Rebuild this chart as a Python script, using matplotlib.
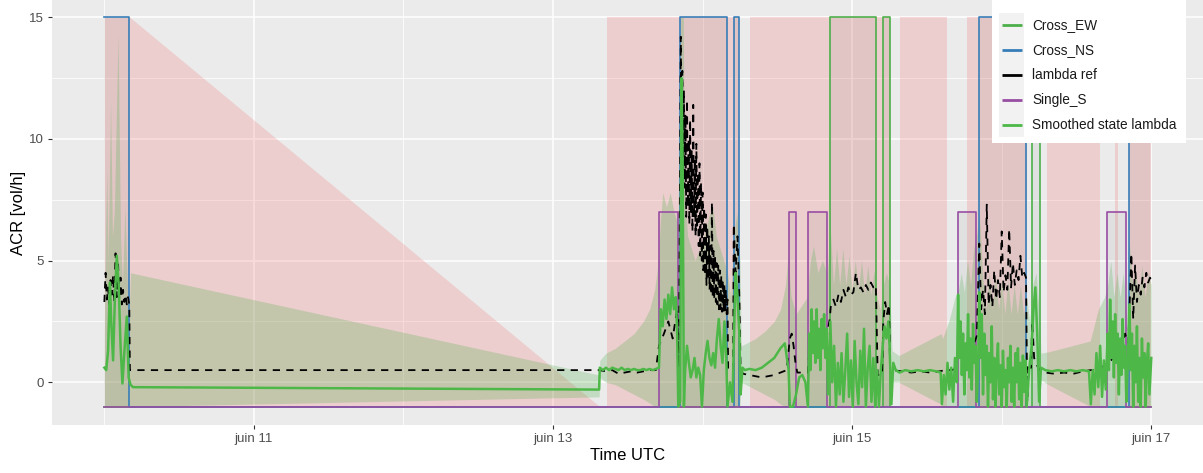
import numpy as np
import matplotlib
matplotlib.use("Agg")
import matplotlib.pyplot as plt
import matplotlib.dates as mdates
from matplotlib.patches import Rectangle
from datetime import datetime

plt.rcParams["font.family"] = ["Liberation Sans", "DejaVu Sans"]

# all times are hours since juin 10 00:00 UTC
t_ref = [0, 0.2, 0.4, 0.6, 0.8, 1.0, 1.2, 1.4, 1.6, 1.8, 2.0, 2.2, 2.4, 2.6, 2.8, 3.0, 3.2, 3.4, 3.6, 3.8, 4.0, 4.1,
         79.4, 80.5, 81.5, 82.5, 83.5, 84.5, 85.5, 86.5, 87.5, 88.5,
         89.0, 89.8, 90.5, 91.2, 91.9, 92.2,
         92.5, 92.625, 92.75, 92.875, 93.0, 93.125, 93.25, 93.375, 93.5, 93.625, 93.75, 93.875,
         94.0, 94.125, 94.25, 94.375, 94.5, 94.625, 94.75, 94.875, 95.0, 95.125, 95.25, 95.375,
         95.5, 95.625, 95.75, 95.875, 96.0, 96.125, 96.25, 96.375, 96.5, 96.625, 96.75, 96.875,
         97.0, 97.125, 97.25, 97.375, 97.5, 97.625, 97.75, 97.875, 98.0, 98.125, 98.25, 98.375,
         98.5, 98.625, 98.75, 98.875, 99.0, 99.125, 99.25, 99.375, 99.5, 99.625, 99.75, 99.875, 100.0,
         100.1, 100.9, 101.0, 101.3, 101.6, 101.9, 102.1,
         102.5, 103.5, 104.5, 105.5, 106.5, 107.5, 108.5, 109.5,
         110.0, 110.3, 110.6, 110.9, 111.2, 112.9,
         113.1, 114.0, 115.0, 116.0,
         116.4, 116.6, 117.0, 117.4, 117.8, 118.2, 118.6, 119.0, 119.4, 119.8,
         120.2, 120.6, 121.0, 121.4, 121.8, 122.2, 122.6, 123.0, 123.4, 123.8,
         124.1, 124.8, 125.0, 125.3, 125.6, 125.9, 126.1,
         126.5, 128.0, 129.5, 131.0, 132.5, 134.0,
         135.0, 136.0, 137.0, 138.0, 139.0, 140.0,
         140.4, 140.7, 141.0, 141.3, 141.6, 141.9, 142.2, 142.5, 142.8, 143.1, 143.4, 143.7, 144.0,
         144.3, 144.6, 144.9, 145.2, 145.5, 145.8, 146.1, 146.4, 146.7, 147.0, 147.3, 147.6, 147.9,
         148.1, 148.3, 148.7, 148.9, 149.2, 150.0,
         151.0, 152.5, 154.0, 155.5, 157.0, 158.3,
         159.0, 160.0, 161.0, 162.0, 163.0, 163.8, 164.3,
         164.5, 164.8, 165.1, 165.4, 165.7, 166.0, 166.3, 166.6, 166.9, 167.2, 167.5, 167.8, 168.0]
v_ref = [3.3, 4.5, 3.4, 3.9, 3.2, 4.2, 3.6, 4.4, 3.3, 5.3, 3.5, 4.9, 3.4, 4.3, 3.2, 3.8, 3.3, 3.6, 3.2, 3.5, 3.2, 0.5,
         0.5, 0.45, 0.5, 0.35, 0.4, 0.45, 0.4, 0.45, 0.5, 0.5,
         1.5, 2.0, 2.5, 1.8, 3.0, 0.6,
         14.2, 8.5, 12.8, 7.5, 12.0, 8.0, 11.0, 6.8, 11.6, 7.2, 10.0, 6.5,
         10.8, 7.0, 9.5, 6.2, 11.4, 6.8, 9.2, 6.0, 9.8, 6.3, 8.6, 5.6,
         9.0, 5.2, 8.2, 5.0, 7.8, 4.6, 7.2, 4.4, 6.9, 4.0, 6.4, 4.2,
         6.0, 3.8, 5.6, 3.6, 7.4, 3.5, 5.4, 3.4, 5.2, 3.3, 4.9, 3.2,
         4.8, 3.0, 4.6, 3.0, 4.4, 2.9, 4.2, 2.9, 4.0, 2.9, 3.8, 2.8, 3.4,
         0.5, 0.5, 6.5, 4.5, 6.0, 3.5, 0.5,
         0.35, 0.3, 0.25, 0.2, 0.25, 0.3, 0.4, 0.5,
         1.8, 2.0, 1.5, 0.8, 0.4, 0.4,
         1.2, 1.5, 1.8, 2.0,
         2.6, 3.2, 3.4, 3.1, 3.6, 3.3, 3.8, 3.5, 3.9, 3.6,
         3.7, 4.5, 3.8, 3.9, 3.7, 4.0, 3.8, 4.1, 3.9, 4.0,
         0.3, 0.3, 2.5, 3.3, 2.8, 3.2, 0.5,
         0.5, 0.45, 0.4, 0.45, 0.4, 0.45,
         0.5, 0.5, 0.6, 0.8, 1.2, 1.9,
         5.7, 3.0, 3.8, 2.8, 7.3, 3.2, 4.0, 3.1, 4.6, 3.4, 4.2, 3.5, 6.2,
         3.7, 4.4, 3.8, 6.3, 3.9, 4.9, 4.0, 4.6, 4.2, 5.2, 4.3, 4.5, 4.3,
         -0.8, 0.6, 0.6, 2.5, 1.0, 0.5,
         0.4, 0.35, 0.4, 0.35, 0.45, 0.5,
         0.5, 0.6, 0.8, 1.0, 1.3, 2.0, 1.6,
         3.0, 5.3, 2.6, 4.8, 3.3, 4.0, 3.6, 4.3, 3.9, 4.5, 4.1, 4.3, 4.2]

t_smooth = [0, 0.3, 0.6, 0.9, 1.1, 1.4, 1.7, 2.0, 2.3, 2.6, 2.9, 3.2, 3.6, 3.9, 4.2, 4.6,
            79.4, 79.5, 80.0, 80.5, 81.0, 81.5, 82.0, 82.5, 83.0, 83.5, 84.0, 84.5, 85.0, 85.5,
            86.0, 86.5, 87.0, 87.5, 88.0, 88.5, 89.0,
            89.1, 89.3, 89.6, 89.9, 90.2, 90.5, 90.8, 91.1, 91.4, 91.7, 91.9, 92.1, 92.4, 92.6, 92.8,
            93.0, 93.2, 93.5, 93.8, 94.1, 94.4, 94.7, 95.0, 95.3, 95.6, 95.9, 96.2, 96.5, 96.8,
            97.1, 97.4, 97.7, 98.0, 98.3, 98.6, 98.9, 99.2, 99.5, 99.8, 100.0, 100.4, 100.8,
            101.0, 101.3, 101.6, 101.9, 102.1, 102.4, 102.8, 103.5, 104.5, 105.5, 106.5, 107.5,
            108.5, 109.2, 109.8, 110.0, 110.5, 111.0, 111.5, 112.0, 112.5, 112.9,
            113.1, 113.3, 113.5, 113.7, 113.9, 114.1, 114.3, 114.5, 114.7, 114.9, 115.1, 115.3,
            115.5, 115.7, 115.9, 116.1, 116.3,
            116.5, 116.8, 117.1, 117.4, 117.7, 118.0, 118.3, 118.6, 118.9, 119.2, 119.5, 119.8,
            120.1, 120.4, 120.7, 121.0, 121.3, 121.6, 121.9, 122.2, 122.5, 122.8, 123.1, 123.4,
            123.7, 124.0, 124.3, 124.6, 124.9, 125.2, 125.5, 125.8, 126.0, 126.3, 126.6,
            127.0, 127.6, 128.5, 129.5, 130.5, 131.5, 132.5, 133.5, 134.2, 134.4,
            134.7, 135.0, 135.3, 135.6, 135.9, 136.2, 136.5, 136.8,
            137.0, 137.2, 137.4, 137.6, 137.8, 138.0, 138.2, 138.4, 138.6, 138.8, 139.0, 139.2,
            139.4, 139.6, 139.8, 140.0, 140.2,
            140.4, 140.6, 140.8, 141.0, 141.2, 141.4, 141.6, 141.8, 142.0, 142.2, 142.4, 142.6,
            142.8, 143.0, 143.2, 143.4, 143.6, 143.8, 144.0, 144.2, 144.4, 144.6, 144.8, 145.0,
            145.2, 145.4, 145.6, 145.8, 146.0, 146.2, 146.4, 146.6, 146.8, 147.0, 147.2, 147.4,
            147.6, 147.8, 148.0, 148.4, 148.8, 149.1, 149.4, 149.7, 150.0, 150.3,
            151.0, 152.0, 153.0, 154.0, 155.0, 156.0, 157.0, 158.0, 158.3, 158.6, 158.9,
            159.2, 159.5, 159.8, 160.1, 160.4, 160.7,
            161.0, 161.2, 161.4, 161.6, 161.8, 162.0, 162.2, 162.4, 162.6, 162.8, 163.0, 163.2,
            163.4, 163.6, 163.8, 164.0, 164.2,
            164.5, 164.7, 164.9, 165.1, 165.3, 165.5, 165.7, 165.9, 166.1, 166.3, 166.5, 166.7,
            166.9, 167.1, 167.3, 167.5, 167.7, 168.0]
v_smooth = [0.6, 0.5, 1.3, 4.1, 2.5, 0.9, 3.5, 5.2, 4.0, 1.5, -0.05, 1.2, 2.7, 0.2, -0.1, -0.2,
            -0.3, 0.6, 0.5, 0.6, 0.5, 0.6, 0.55, 0.5, 0.6, 0.5, 0.55, 0.5, 0.55, 0.5,
            0.5, 0.55, 0.5, 0.55, 0.5, 0.55, 0.6,
            1.5, 3.0, 2.3, 3.4, 2.6, 3.6, 2.8, 3.9, 3.0, 3.5, 2.2, -1.0, -0.8, 12.5, 9.0,
            -1.0, 0.5, 1.5, 0.8, 0.2, 0.5, 1.0, 0.2, 0.6, 0.3, -1.0, 0.5, 1.2, 1.7,
            1.0, 0.7, 1.2, 0.6, 1.8, 2.6, 1.5, 0.8, 2.5, 1.0, -1.0, 0.0, -0.8,
            1.5, 4.5, 3.5, 2.0, -0.5, 0.6, 0.5, 0.55, 0.5, 0.6, 0.8, 1.0,
            1.4, 1.6, 0.5, -1.0, -1.0, -0.5, 0.2, 0.3, 0.0, -1.0,
            2.0, 0.5, 3.0, 1.2, 2.5, 0.8, 3.0, 1.0, 2.2, 0.5, 2.6, 1.4,
            2.8, 1.0, 2.2, -0.5, 1.0,
            2.5, 0.0, 1.5, -1.0, 0.8, -0.5, 1.2, -0.8, 0.5, 2.0, -0.6, 0.9,
            -1.0, 1.7, 0.0, -0.9, 1.3, -0.2, 2.2, -1.0, 0.6, 1.5, -0.8, 1.0,
            -1.0, 0.5, -1.0, 0.5, 1.5, 2.3, 1.8, 2.5, 1.5, -0.9, 0.8,
            0.5, 0.4, 0.5, 0.45, 0.5, 0.45, 0.5, 0.45, 0.4, -0.9,
            0.3, -0.5, 0.8, -0.3, 0.6, -0.8, 1.0, 0.0,
            3.6, 1.0, 2.5, 0.3, 2.0, -0.5, 1.6, 0.5, 2.8, 0.2, 1.8, -0.3,
            2.4, 0.8, 1.5, -0.8, 0.5,
            3.7, 1.0, 2.8, -0.5, 2.0, 0.3, 1.5, -1.0, 1.2, 0.0, 2.3, -0.7,
            1.0, -1.0, 0.8, 1.6, -0.5, 0.7, -1.0, 1.3, -0.2, 0.5, -1.0, 1.0,
            0.0, 1.5, -0.8, 0.6, -1.0, 1.2, 0.0, 1.4, -0.7, 0.8, -1.0, 1.1,
            -0.4, 0.9, -1.0, 0.5, 1.5, 3.0, 3.9, 2.0, -0.8, 0.6,
            0.5, 0.45, 0.5, 0.45, 0.5, 0.45, 0.5, 0.45, -0.9, 0.5, -0.5,
            1.2, -0.2, 1.5, -0.6, 0.9, -0.3,
            2.0, 0.5, 3.4, 1.0, 2.5, 0.2, 2.8, 0.8, 2.0, -0.5, 1.8, 0.3,
            2.6, 0.6, 1.5, -0.8, 0.6,
            3.2, 0.5, 2.0, -1.0, 1.5, 0.0, 2.3, -0.8, 1.0, -1.0, 1.8, 0.2,
            1.2, -1.0, 0.8, 1.6, -0.5, 1.0]

t_ci = [0, 0.2, 0.4, 0.6, 1.0, 1.3, 1.6, 2.2, 2.6, 2.9, 3.3, 3.7, 4.0, 4.2,
        79.4, 79.5, 80.5, 82.0, 83.5, 85.0, 86.5, 87.5, 88.3, 88.9,
        89.2, 89.6, 90.2, 90.8, 91.4, 92.0, 92.3, 92.5, 92.9, 93.1,
        93.6, 94.2, 94.8, 95.5, 96.2, 97.0, 97.6, 98.2, 98.8, 99.4,
        100.0, 100.5, 101.0, 101.5, 102.0,
        102.2, 103.0, 104.5, 106.0, 107.5, 108.5, 109.3, 109.7,
        110.2, 111.0, 112.0, 112.8, 113.3, 113.8, 114.5, 115.2, 116.0,
        116.5, 117.0, 117.5, 118.0, 118.5, 119.0, 119.5, 120.0, 120.5,
        121.0, 121.5, 122.0, 122.5, 123.0, 123.5, 124.0, 124.5, 125.0, 125.5, 126.0,
        126.4, 127.5, 129.0, 130.5, 132.0, 133.5, 134.3,
        134.5, 135.5, 136.5, 137.0, 137.5, 138.0, 138.5, 139.0, 139.5, 140.0,
        140.4, 141.0, 141.5, 142.0, 142.5, 143.0, 143.5, 144.0, 144.5, 145.0,
        145.5, 146.0, 146.5, 147.0, 147.5, 148.0, 148.5, 149.0, 149.5, 150.0,
        150.3, 151.5, 153.0, 154.5, 156.0, 157.5,
        158.2, 158.5, 159.5, 160.5, 161.0, 161.5, 162.0, 162.5, 163.0, 163.5,
        164.0, 164.4, 165.0, 165.5, 166.0, 166.5, 167.0, 167.5, 168.0]
ci_hi = [2.0, 6.0, 8.9, 5.0, 11.6, 6.0, 7.0, 14.3, 6.0, 4.0, 7.2, 4.0, 3.0, 4.5,
         0.3, 0.9, 1.2, 1.4, 1.7, 2.0, 2.5, 3.0, 3.8, 5.0,
         6.5, 7.8, 7.2, 7.8, 7.0, 6.5, 8.0, 15.0, 15.0, 8.0,
         6.0, 5.5, 5.0, 5.5, 6.0, 6.8, 7.3, 6.0, 5.5, 5.0,
         4.5, 3.5, 6.0, 7.0, 5.0,
         1.5, 1.6, 1.8, 2.1, 2.5, 3.0, 4.0, 5.2,
         3.5, 2.8, 3.2, 3.5, 5.0, 5.6, 4.5, 5.0, 4.5,
         6.3, 4.0, 5.5, 4.0, 5.5, 4.0, 5.2, 3.8, 5.0,
         3.8, 5.0, 3.6, 4.8, 3.6, 4.6, 3.5, 3.0, 4.0, 4.5, 4.0,
         1.3, 1.1, 1.3, 1.5, 1.7, 1.9, 2.0,
         1.8, 2.5, 3.5, 3.7, 4.5, 3.7, 5.0, 4.0, 5.5, 6.1,
         7.0, 4.2, 3.0, 4.5, 3.0, 4.4, 3.0, 4.2, 2.8, 4.2,
         2.8, 4.0, 2.8, 4.0, 2.8, 3.5, 2.5, 4.0, 4.5, 3.0,
         1.2, 1.25, 1.35, 1.45, 1.55, 1.65,
         1.7, 2.0, 3.0, 3.5, 4.0, 5.0, 3.5, 4.5, 3.5, 4.5,
         3.0, 6.0, 4.0, 4.5, 3.5, 4.8, 3.5, 4.5, 4.0]
ci_lo = [-1, -1, -1, -1, -1, -1, -1, -1, -1, -1, -1, -1, -1, -1,
         -0.6, 0.2, 0.0, -0.1, -0.3, -0.5, -0.7, -0.85, -1, -1,
         -1, -1, -1, -1, -1, -1, -1, -1, -1, -1,
         -1, -1, -1, -1, -1, -1, -1, -1, -1, -1,
         -1, -1, -1, -1, -1,
         0.0, -0.1, -0.3, -0.5, -0.7, -0.9, -1, -1,
         -1, -1, -1, -1, -1, -1, -1, -1, -1,
         -1, -1, -1, -1, -1, -1, -1, -1, -1,
         -1, -1, -1, -1, -1, -1, -1, -1, -1, -1, -1,
         0.0, 0.0, -0.2, -0.4, -0.6, -0.8, -0.9,
         -1, -1, -1, -1, -1, -1, -1, -1, -1, -1,
         -1, -1, -1, -1, -1, -1, -1, -1, -1, -1,
         -1, -1, -1, -1, -1, -1, -1, -1, -1, -1,
         0.1, -0.1, -0.3, -0.5, -0.7, -0.9,
         -1, -1, -1, -1, -1, -1, -1, -1, -1, -1,
         -1, -1, -1, -1, -1, -1, -1, -1, -1]

# state periods (start, end) in hours
cross_ns_on = [(0, 4.0), (92.4, 99.9), (101.0, 101.9), (140.3, 147.9), (164.4, 168.0)]
cross_ew_on = [(116.4, 123.9), (124.9, 126.0), (148.8, 150.1)]
single_s_on = [(89.0, 92.0), (109.9, 111.0), (112.9, 116.0), (137.0, 139.9), (160.9, 164.0)]
occupied = [(80.7, 101.9), (103.6, 126.0), (127.6, 135.3), (138.5, 148.0),
            (151.2, 159.7), (162.1, 162.6), (164.4, 168.0)]
first_block_end, gap_end = 4.1, 79.5
t_end = 168.0

t0 = mdates.date2num(datetime(2024, 6, 10))


def tx(h):
    return t0 + np.asarray(h, dtype=float) / 24.0


def step_path(periods, level):
    xs, ys = [], []
    if periods[0][0] > 0:
        xs, ys = [0.0], [-1.0]
    for a, b in periods:
        if a > 0:
            xs += [a, a]
            ys += [-1, level]
        else:
            xs.append(a)
            ys.append(level)
        xs.append(b)
        ys.append(level)
        if b < t_end:
            xs.append(b)
            ys.append(-1)
    if xs[-1] < t_end:
        xs.append(t_end)
        ys.append(-1)
    return tx(xs), ys


c_ew = "#4DAF4A"
c_ns = "#377EB8"
c_ss = "#984EA3"
c_sm = "#4DB848"

fig = plt.figure(figsize=(12.03, 4.73), dpi=100)
ax = fig.add_axes([52 / 1203, 1 - 425 / 473, 1151 / 1203, 425 / 473])
ax.set_facecolor("#EBEBEB")
for s in ax.spines.values():
    s.set_visible(False)

# occupancy shading
ax.fill_between(tx([0, first_block_end, gap_end]), -1, [15, 15, -1],
                color="#F08080", alpha=0.27, lw=0, zorder=1)
for a, b in occupied:
    ax.fill_between(tx([a, b]), -1, 15, color="#F08080", alpha=0.27, lw=0, zorder=1)

# state shading
for periods, level in [(cross_ns_on, 15), (cross_ew_on, 15), (single_s_on, 7)]:
    for a, b in periods:
        ax.fill_between(tx([a, b]), -1, level, color="black", alpha=0.045, lw=0, zorder=1.5)

# confidence band of the smoothed state
ax.fill_between(tx(t_ci), ci_lo, ci_hi, color=c_ew, alpha=0.25, lw=0, zorder=2)

x, y = step_path(cross_ew_on, 15)
ax.plot(x, y, color=c_ew, lw=1.2, zorder=3)
x, y = step_path(cross_ns_on, 15)
ax.plot(x, y, color=c_ns, lw=1.2, zorder=3)
x, y = step_path(single_s_on, 7)
ax.plot(x, y, color=c_ss, lw=1.2, zorder=3.1)

ax.plot(tx(t_ref), v_ref, color="black", lw=1.3, dashes=(4, 3.5), zorder=4)
ax.plot(tx(t_smooth), v_smooth, color=c_sm, lw=1.8, zorder=5)

ax.set_ylim(-1.755, 15.71)
ax.set_xlim(tx(-8.4), tx(176.3))
ax.set_yticks([0, 5, 10, 15])
ax.set_yticks([2.5, 7.5, 12.5], minor=True)
ax.xaxis.set_major_locator(mdates.DayLocator(bymonthday=[11, 13, 15, 17]))
ax.xaxis.set_minor_locator(mdates.DayLocator(bymonthday=[10, 12, 14, 16]))
ax.xaxis.set_major_formatter(mdates.DateFormatter("juin %d"))
ax.grid(which="major", color="white", lw=1.1, zorder=0)
ax.grid(which="minor", color="white", lw=0.55, zorder=0)
ax.set_axisbelow(True)
ax.tick_params(which="major", length=3, width=0.8, color="#333333",
               labelcolor="#4D4D4D", labelsize=9.5, pad=3)
ax.tick_params(which="minor", length=0)
ax.set_xlabel("Time UTC", fontsize=12, labelpad=2)
ax.set_ylabel("ACR [vol/h]", fontsize=12, labelpad=2)

# legend box (drawn by hand so the keys get the grey background)
W, H = 1151.0, 425.0


def fx(px):
    return (px - 52) / W


def fy(py):
    return 1 - py / H


ax.add_patch(Rectangle((fx(992), fy(143)), fx(1186) - fx(992), fy(-2) - fy(143),
                       transform=ax.transAxes, facecolor="white", edgecolor="none",
                       zorder=10, clip_on=False))
ax.add_patch(Rectangle((fx(999), fy(137)), fx(1024) - fx(999), fy(13) - fy(137),
                       transform=ax.transAxes, facecolor="#F2F2F2", edgecolor="none",
                       zorder=11, clip_on=False))
legend_labels = ["Cross_EW", "Cross_NS", "lambda ref", "Single_S", "Smoothed state lambda"]
legend_colors = [c_ew, c_ns, "black", c_ss, c_sm]
for i, (lab, col) in enumerate(zip(legend_labels, legend_colors)):
    yy = fy(25 + 25 * i)
    ax.plot([fx(1002), fx(1022)], [yy, yy], color=col, lw=2, transform=ax.transAxes,
            zorder=12, clip_on=False, solid_capstyle="butt")
    ax.text(fx(1032), yy, lab, transform=ax.transAxes, fontsize=9.8, color="#1A1A1A",
            va="center", ha="left", zorder=12)

fig.savefig("out.png", dpi=100)
